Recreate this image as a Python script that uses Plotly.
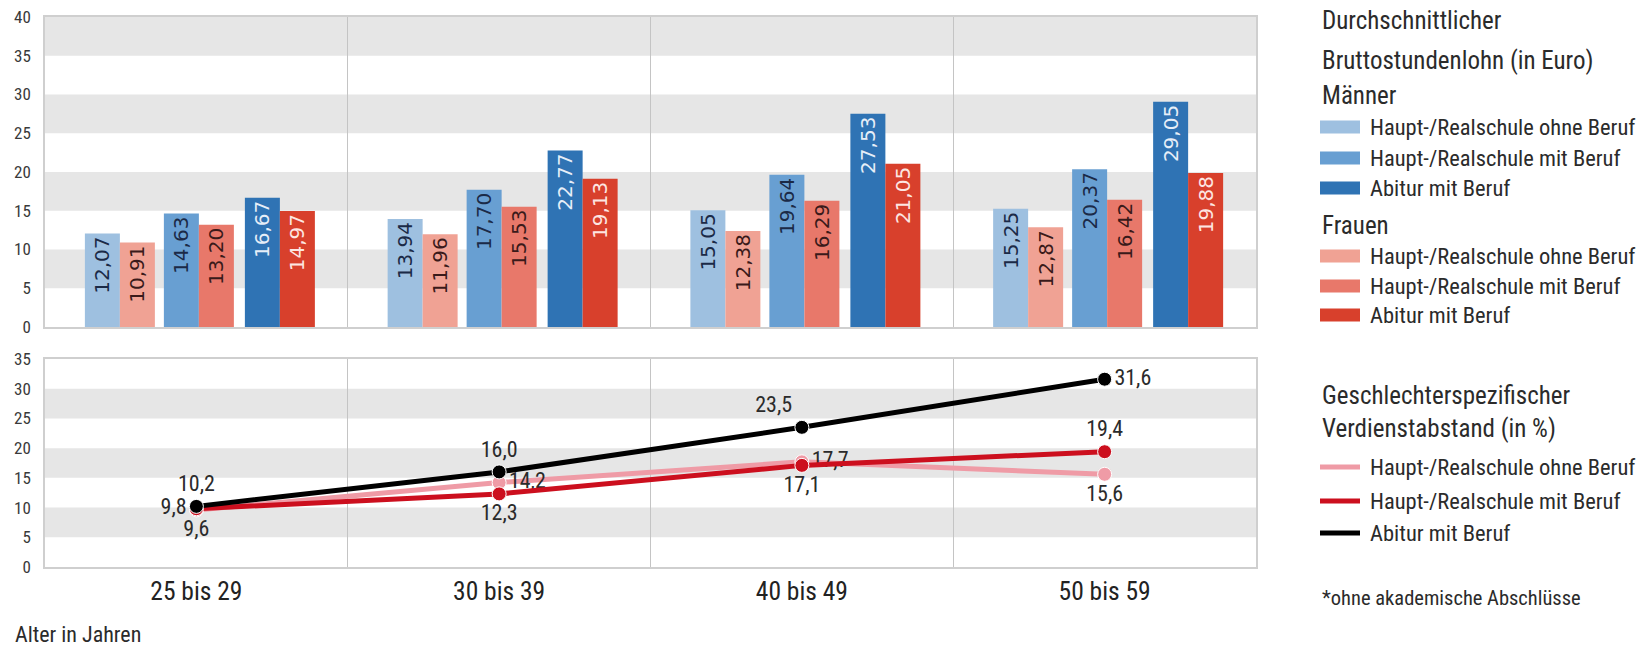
import plotly.graph_objects as go

# ---------------- data ----------------
categories = ["25 bis 29", "30 bis 39", "40 bis 49", "50 bis 59"]

bar_names = [
    "Männer – Haupt-/Realschule ohne Beruf",
    "Frauen – Haupt-/Realschule ohne Beruf",
    "Männer – Haupt-/Realschule mit Beruf",
    "Frauen – Haupt-/Realschule mit Beruf",
    "Männer – Abitur mit Beruf",
    "Frauen – Abitur mit Beruf",
]
men_ohne = [12.07, 13.94, 15.05, 15.25]
women_ohne = [10.91, 11.96, 12.38, 12.87]
men_mit = [14.63, 17.70, 19.64, 20.37]
women_mit = [13.20, 15.53, 16.29, 16.42]
men_abitur = [16.67, 22.77, 27.53, 29.05]
women_abitur = [14.97, 19.13, 21.05, 19.88]

gap_ohne = [9.6, 14.2, 17.7, 15.6]
gap_mit = [9.8, 12.3, 17.1, 19.4]
gap_abitur = [10.2, 16.0, 23.5, 31.6]

legend_entries = ["Haupt-/Realschule ohne Beruf", "Haupt-/Realschule mit Beruf", "Abitur mit Beruf"]

# ---------------- styles ----------------
FONT = "Liberation Sans Narrow, Arial Narrow, Roboto Condensed, Liberation Sans, sans-serif"
BARFONT = "DejaVu Sans, Liberation Sans, sans-serif"
TXT = "#2b2b2b"
bar_colors = ["#9ec0e0", "#f0a294", "#689fd2", "#e8786a", "#2f73b4", "#d8402c"]
bar_text_colors = ["#1b2a47", "#3a1a1a", "#1b2a47", "#3a1a1a", "#e6eef8", "#fde6e2"]
line_colors = ["#ef9ba6", "#cc0f1e", "#000000"]

W, H = 1641, 647
X0, X1 = 45, 1256
TOP_Y40, TOP_Y0 = 17, 327
BOT_Y35, BOT_Y0 = 359, 567

def py(p):
    return 1 - p / H

def px(p):
    return p / W

grp = (X1 - X0) / 4.0
bw = 35 / grp
starts = [-111.5, -76.5, -32.5, 2.5, 48.5, 83.5]

fig = go.Figure()

series = [men_ohne, women_ohne, men_mit, women_mit, men_abitur, women_abitur]
for i, (name, vals) in enumerate(zip(bar_names, series)):
    fig.add_trace(go.Bar(
        x=categories, y=vals, name=name,
        xaxis="x", yaxis="y",
        offset=starts[i] / grp, width=bw,
        marker=dict(color=bar_colors[i], line=dict(width=0)),
        texttemplate="%{y:.2f}", textposition="inside", insidetextanchor="end",
        textangle=-90, constraintext="none",
        textfont=dict(family=BARFONT, size=20, color=bar_text_colors[i]),
        showlegend=False, hoverinfo="x+y",
    ))

line_series = [
    (legend_entries[0], gap_ohne, line_colors[0],
     ["bottom center", "middle right", "middle right", "bottom center"]),
    (legend_entries[1], gap_mit, line_colors[1],
     ["middle left", "bottom center", "bottom center", "top center"]),
    (legend_entries[2], gap_abitur, line_colors[2],
     ["top center", "top center", "top left", "middle right"]),
]
for name, vals, col, tpos in line_series:
    fig.add_trace(go.Scatter(
        x=categories, y=vals, name=name, xaxis="x2", yaxis="y2",
        mode="lines+markers+text",
        line=dict(color=col, width=5),
        marker=dict(size=14, color=col, line=dict(color="white", width=1)),
        texttemplate="%{y:.1f}", textposition=tpos,
        textfont=dict(family=FONT, size=22, color=TXT),
        showlegend=False, cliponaxis=False,
    ))

BAND = "#e6e6e6"
shapes = []
for lo in (5, 15, 25, 35):
    shapes.append(dict(type="rect", xref="x domain", yref="y", x0=0, x1=1, y0=lo, y1=lo + 5,
                       fillcolor=BAND, line=dict(width=0), layer="below"))
for lo in (5, 15, 25):
    shapes.append(dict(type="rect", xref="x2 domain", yref="y2", x0=0, x1=1, y0=lo, y1=lo + 5,
                       fillcolor=BAND, line=dict(width=0), layer="below"))

annotations = []

def text(x, y, s, size, color=TXT):
    annotations.append(dict(xref="paper", yref="paper", x=px(x), y=py(y), text=s,
                            showarrow=False, xanchor="left", yanchor="middle",
                            font=dict(family=FONT, size=size, color=color)))

LX = 1320
TX = 1368

def swatch(y, color, h=13):
    shapes.append(dict(type="rect", xref="paper", yref="paper",
                       x0=px(LX), x1=px(LX + 40), y0=py(y + h / 2), y1=py(y - h / 2),
                       fillcolor=color, line=dict(width=0)))

text(LX, 21, "Durchschnittlicher", 25)
text(LX, 60, "Bruttostundenlohn (in Euro)", 25)
text(LX, 96, "Männer", 25)
for y, lab, c in zip([127, 158, 188], legend_entries, [bar_colors[0], bar_colors[2], bar_colors[4]]):
    swatch(y, c)
    text(TX, y, lab, 22.5)
text(LX, 226, "Frauen", 25)
for y, lab, c in zip([256, 286, 315], legend_entries, [bar_colors[1], bar_colors[3], bar_colors[5]]):
    swatch(y, c)
    text(TX, y, lab, 22.5)

text(LX, 395, "Geschlechterspezifischer", 25)
text(LX, 428, "Verdienstabstand (in %)", 25)
for y, lab, c in zip([467, 501, 533], legend_entries, line_colors):
    swatch(y, c, h=5)
    text(TX, y, lab, 22.5)
text(LX, 598, "*ohne akademische Abschlüsse", 20.5)
text(13, 634, "Alter in Jahren", 22)

AX_LINE = "#cfcfcf"
GRID = "#c4c4c4"
common_x = dict(type="category", range=[-0.5, 3.5], domain=[px(X0), px(X1)],
                tickson="boundaries", showgrid=True, gridcolor=GRID, gridwidth=1,
                showline=True, linecolor=AX_LINE, linewidth=2, mirror=True,
                zeroline=False, fixedrange=True)
common_y = dict(showgrid=False, zeroline=False, showline=True, linecolor=AX_LINE,
                linewidth=1.5, mirror=True, ticks="outside", ticklen=9,
                tickcolor="rgba(0,0,0,0)", dtick=5,
                tickfont=dict(family=FONT, size=17, color="#3a3a3a"))

fig.update_layout(
    width=W, height=H,
    margin=dict(l=0, r=0, t=0, b=0, autoexpand=False),
    paper_bgcolor="white", plot_bgcolor="white",
    separators=",.",
    barmode="overlay",
    showlegend=False,
    xaxis=dict(**common_x, anchor="y", showticklabels=False, ticks=""),
    xaxis2=dict(**common_x, anchor="y2", ticks="outside", ticklen=18,
                tickcolor="rgba(0,0,0,0)",
                tickfont=dict(family=FONT, size=25.5, color="#222222")),
    yaxis=dict(**common_y, domain=[py(TOP_Y0), py(TOP_Y40)], range=[0, 40], anchor="x"),
    yaxis2=dict(**common_y, domain=[py(BOT_Y0), py(BOT_Y35)], range=[0, 35], anchor="x2"),
    shapes=shapes,
    annotations=annotations,
    font=dict(family=FONT, color=TXT),
)

fig.write_html("out.html")
